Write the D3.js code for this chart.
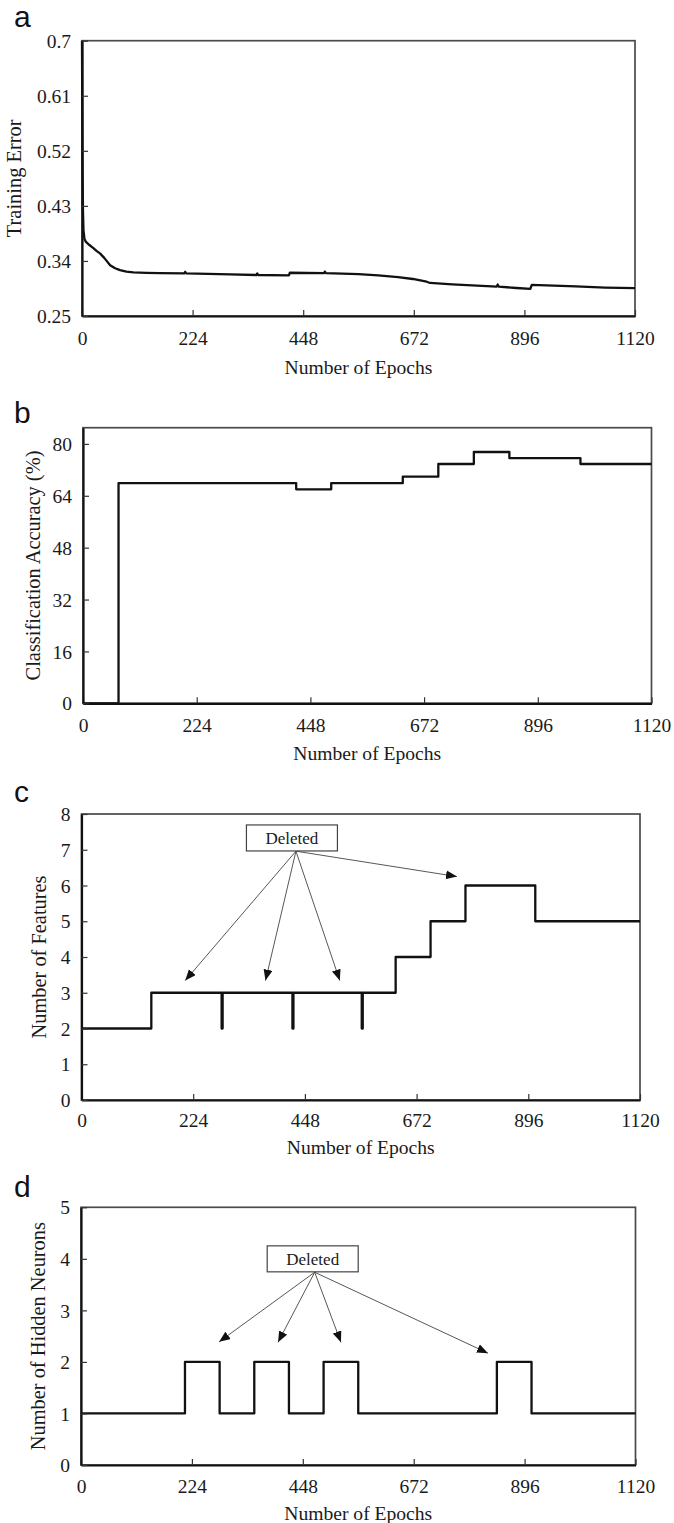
<!DOCTYPE html>
<html>
<head>
<meta charset="utf-8">
<script src="https://cdn.jsdelivr.net/npm/d3@7"></script>
<style>
  body { margin: 0; background: #fff; }
  svg { display: block; }
</style>
</head>
<body>
<div id="chart"></div>
<script>
// shared x ticks (epochs)
const epochTicks = [0, 224, 448, 672, 896, 1120];

// (a) training error
const errEpochs = [0, 0.5, 1, 2, 3, 5, 8, 15, 23, 30, 37, 45, 57, 67, 77, 90, 104, 130, 158,
  207, 209, 211, 300, 353, 355, 357, 419, 421, 490, 492, 494, 560, 600, 640, 670, 698, 705,
  750, 800, 840, 842, 844, 880, 908, 911, 1000, 1060, 1120];
const errValues = [0.70, 0.60, 0.50, 0.42, 0.39, 0.376, 0.371, 0.366, 0.361, 0.356, 0.352, 0.345,
  0.333, 0.328, 0.325, 0.3225, 0.3214, 0.3205, 0.320,
  0.3198, 0.3222, 0.3198, 0.318, 0.317, 0.3195, 0.317, 0.3165, 0.3207, 0.3202, 0.3226, 0.3202,
  0.3186, 0.3165, 0.3135, 0.3105, 0.306, 0.304, 0.3016, 0.2995, 0.298, 0.3015, 0.298, 0.2958,
  0.2945, 0.301, 0.2985, 0.2965, 0.2955];
const errTicks = [0.25, 0.34, 0.43, 0.52, 0.61, 0.7];

// (b) classification accuracy (step after)
const accEpochs = [0, 70, 420, 489, 630, 700, 770, 840, 980, 1120];
const accValues = [0, 67.9, 66.0, 67.9, 69.9, 73.8, 77.5, 75.6, 73.8, 73.8];
const accTicks = [0, 16, 32, 48, 64, 80];

// (c) number of features (step after)
const featEpochs = [0, 140, 281, 283, 423, 425, 562, 564, 630, 700, 770, 910, 1120];
const featValues = [2, 3, 2, 3, 2, 3, 2, 3, 4, 5, 6, 5, 5];
const featTicks = [0, 1, 2, 3, 4, 5, 6, 7, 8];
const featNote = { label: "Deleted", box: [422, 7.33], from: [430, 6.96],
  to: [[208, 3.34], [369, 3.34], [518, 3.34], [753, 6.25]] };

// (d) number of hidden neurons (step after)
const hidEpochs = [0, 210, 280, 350, 420, 490, 560, 840, 910, 1120];
const hidValues = [1, 2, 1, 2, 1, 2, 1, 2, 1, 1];
const hidTicks = [0, 1, 2, 3, 4, 5];
const hidNote = { label: "Deleted", box: [468, 4.0], from: [472, 3.74],
  to: [[279, 2.39], [398, 2.38], [525, 2.38], [822, 2.17]] };

const width = 674, height = 1523;
const serif = "'Liberation Serif', 'Times New Roman', serif";
const ink = "#1a1a1a";

const svg = d3.select('#chart').append('svg')
  .attr('width', width)
  .attr('height', height)
  .attr('viewBox', `0 0 ${width} ${height}`);

svg.append('defs').append('marker')
  .attr('id', 'arrow')
  .attr('markerUnits', 'userSpaceOnUse')
  .attr('markerWidth', 12).attr('markerHeight', 10)
  .attr('refX', 11).attr('refY', 4.5)
  .attr('orient', 'auto')
  .append('path')
  .attr('d', 'M0,0 L11,4.5 L0,9 Z')
  .attr('fill', '#111');

const panels = [
  { letter: 'a', l: 82, r: 635, t: 40.7, b: 316, yDomain: [0.25, 0.7], yTicks: errTicks,
    xs: errEpochs, ys: errValues, curve: d3.curveLinear, ylab: 'Training Error',
    ylabX: 21, tickBase: 29, titleBase: 58, letterY: 26.7 },
  { letter: 'b', l: 83, r: 651.5, t: 427.7, b: 703.3, yDomain: [0, 85], yTicks: accTicks,
    xs: accEpochs, ys: accValues, curve: d3.curveStepAfter, ylab: 'Classification Accuracy (%)',
    ylabX: 40, tickBase: 28.5, titleBase: 56.5, letterY: 423.3 },
  { letter: 'c', l: 81.5, r: 640, t: 814, b: 1100, yDomain: [0, 8], yTicks: featTicks,
    xs: featEpochs, ys: featValues, curve: d3.curveStepAfter, ylab: 'Number of Features',
    ylabX: 46, tickBase: 26.5, titleBase: 54, letterY: 801.7, note: featNote },
  { letter: 'd', l: 81, r: 635.5, t: 1207.3, b: 1465, yDomain: [0, 5], yTicks: hidTicks,
    xs: hidEpochs, ys: hidValues, curve: d3.curveStepAfter, ylab: 'Number of Hidden Neurons',
    ylabX: 45, tickBase: 27.7, titleBase: 54.5, letterY: 1197.3, note: hidNote }
];

panels.forEach(drawPanel);

function drawPanel(p) {
  const g = svg.append('g').attr('class', 'panel-' + p.letter);
  const x = d3.scaleLinear().domain([0, 1120]).range([p.l, p.r]);
  const y = d3.scaleLinear().domain(p.yDomain).range([p.b, p.t]);

  // frame (top/right a bit lighter)
  g.append('rect')
    .attr('x', p.l).attr('y', p.t)
    .attr('width', p.r - p.l).attr('height', p.b - p.t)
    .attr('fill', 'none')
    .attr('stroke', '#4a4a4a')
    .attr('stroke-width', 1.7);

  const line = d3.line()
    .x((d) => x(d[0]))
    .y((d) => y(d[1]))
    .curve(p.curve);

  g.append('path')
    .datum(d3.zip(p.xs, p.ys))
    .attr('fill', 'none')
    .attr('stroke', '#111')
    .attr('stroke-width', 2.3)
    .attr('stroke-linejoin', 'round')
    .attr('d', line);

  // axes, ticks pointing inwards
  const xAxis = g.append('g')
    .attr('transform', `translate(0,${p.b})`)
    .call(d3.axisBottom(x).tickValues(epochTicks).tickSizeInner(-6).tickSizeOuter(0).tickFormat(d3.format('d')));
  const yAxis = g.append('g')
    .attr('transform', `translate(${p.l},0)`)
    .call(d3.axisLeft(y).tickValues(p.yTicks).tickSizeInner(-6).tickSizeOuter(0).tickFormat(d3.format('')));

  [xAxis, yAxis].forEach((ax) => {
    ax.attr('font-family', null).attr('font-size', null);
    ax.select('.domain').attr('stroke', '#111').attr('stroke-width', 2.2);
    ax.selectAll('.tick line').attr('stroke', '#333').attr('stroke-width', 1.2);
    ax.selectAll('.tick text')
      .attr('font-family', serif)
      .attr('font-size', 19.5)
      .attr('fill', ink);
  });
  xAxis.selectAll('.tick text').attr('y', p.tickBase).attr('dy', 0);
  yAxis.selectAll('.tick text').attr('x', -11).attr('dy', '0.34em');

  // titles
  g.append('text')
    .attr('x', (p.l + p.r) / 2)
    .attr('y', p.b + p.titleBase)
    .attr('text-anchor', 'middle')
    .attr('font-family', serif)
    .attr('font-size', 19.6)
    .attr('fill', ink)
    .text('Number of Epochs');

  g.append('text')
    .attr('transform', `translate(${p.ylabX},${(p.t + p.b) / 2}) rotate(-90)`)
    .attr('text-anchor', 'middle')
    .attr('font-family', serif)
    .attr('font-size', 20.4)
    .attr('fill', ink)
    .text(p.ylab);

  g.append('text')
    .attr('x', 14)
    .attr('y', p.letterY)
    .attr('font-family', "'Liberation Sans', Arial, sans-serif")
    .attr('font-size', 30)
    .attr('fill', '#111')
    .text(p.letter);

  if (p.note) {
    const n = p.note;
    g.selectAll('line.arrow')
      .data(n.to)
      .join('line')
      .attr('class', 'arrow')
      .attr('x1', x(n.from[0])).attr('y1', y(n.from[1]))
      .attr('x2', (d) => x(d[0])).attr('y2', (d) => y(d[1]))
      .attr('stroke', '#444')
      .attr('stroke-width', 0.9)
      .attr('marker-end', 'url(#arrow)');

    const bw = 91, bh = 26;
    g.append('rect')
      .attr('x', x(n.box[0]) - bw / 2)
      .attr('y', y(n.box[1]) - bh / 2)
      .attr('width', bw).attr('height', bh)
      .attr('fill', '#fff')
      .attr('stroke', '#444')
      .attr('stroke-width', 1.2);
    g.append('text')
      .attr('x', x(n.box[0]))
      .attr('y', y(n.box[1]))
      .attr('dy', '0.35em')
      .attr('text-anchor', 'middle')
      .attr('font-family', serif)
      .attr('font-size', 17)
      .attr('fill', ink)
      .text(n.label);
  }
}
</script>
</body>
</html>
